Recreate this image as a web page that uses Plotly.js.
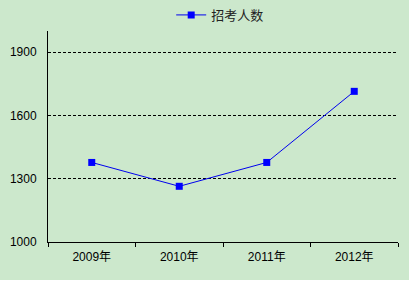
<!DOCTYPE html>
<html><head><meta charset="utf-8">
<script src="https://cdn.plot.ly/plotly-3.0.1.min.js"></script>
<style>html,body{margin:0;padding:0;background:#ffffff;}#chart{width:409px;height:280px;}</style>
</head><body><div id="chart"></div>
<script>
var years = ['2009年', '2010年', '2011年', '2012年'];
var applicants = [1377, 1264, 1377, 1714];
var seriesName = '招考人数';
var yTicks = [1000, 1300, 1600, 1900];

var fontFam = 'Liberation Sans, Noto Sans CJK SC, sans-serif';
Plotly.newPlot('chart', [{
  type: 'scatter', mode: 'lines+markers', x: years, y: applicants, name: seriesName,
  line: {color: '#0000ee', width: 1},
  marker: {symbol: 'square', size: 7, color: '#0000ff'}
}], {
  width: 409, height: 280,
  paper_bgcolor: '#cce8cc', plot_bgcolor: '#cce8cc',
  margin: {l: 48, r: 11, t: 31, b: 38, autoexpand: false},
  font: {family: fontFam, size: 12, color: '#000000'},
  showlegend: true,
  legend: {orientation: 'h', x: 0.352, xanchor: 'left', y: 1.076, yanchor: 'middle', yref: 'paper',
    bgcolor: 'rgba(0,0,0,0)', font: {size: 13, color: '#222222'}, itemwidth: 30},
  xaxis: {type: 'category', range: [-0.5, 3.5], showline: true, linecolor: '#000000', linewidth: 1,
    ticks: 'outside', ticklen: 4, tickcolor: '#000000', tickson: 'boundaries',
    showgrid: false, tickfont: {size: 12}, ticklabelstandoff: 4, fixedrange: true},
  yaxis: {range: [1000, 2000], tickvals: yTicks, ticktext: yTicks.map(String),
    showline: true, linecolor: '#000000', linewidth: 1, ticks: '',
    showgrid: true, gridcolor: '#000000', gridwidth: 1, griddash: '3px,2px',
    zeroline: false, tickfont: {size: 12}, ticklabelstandoff: 8, fixedrange: true}
}, {displayModeBar: false, staticPlot: true});
</script></body></html>
